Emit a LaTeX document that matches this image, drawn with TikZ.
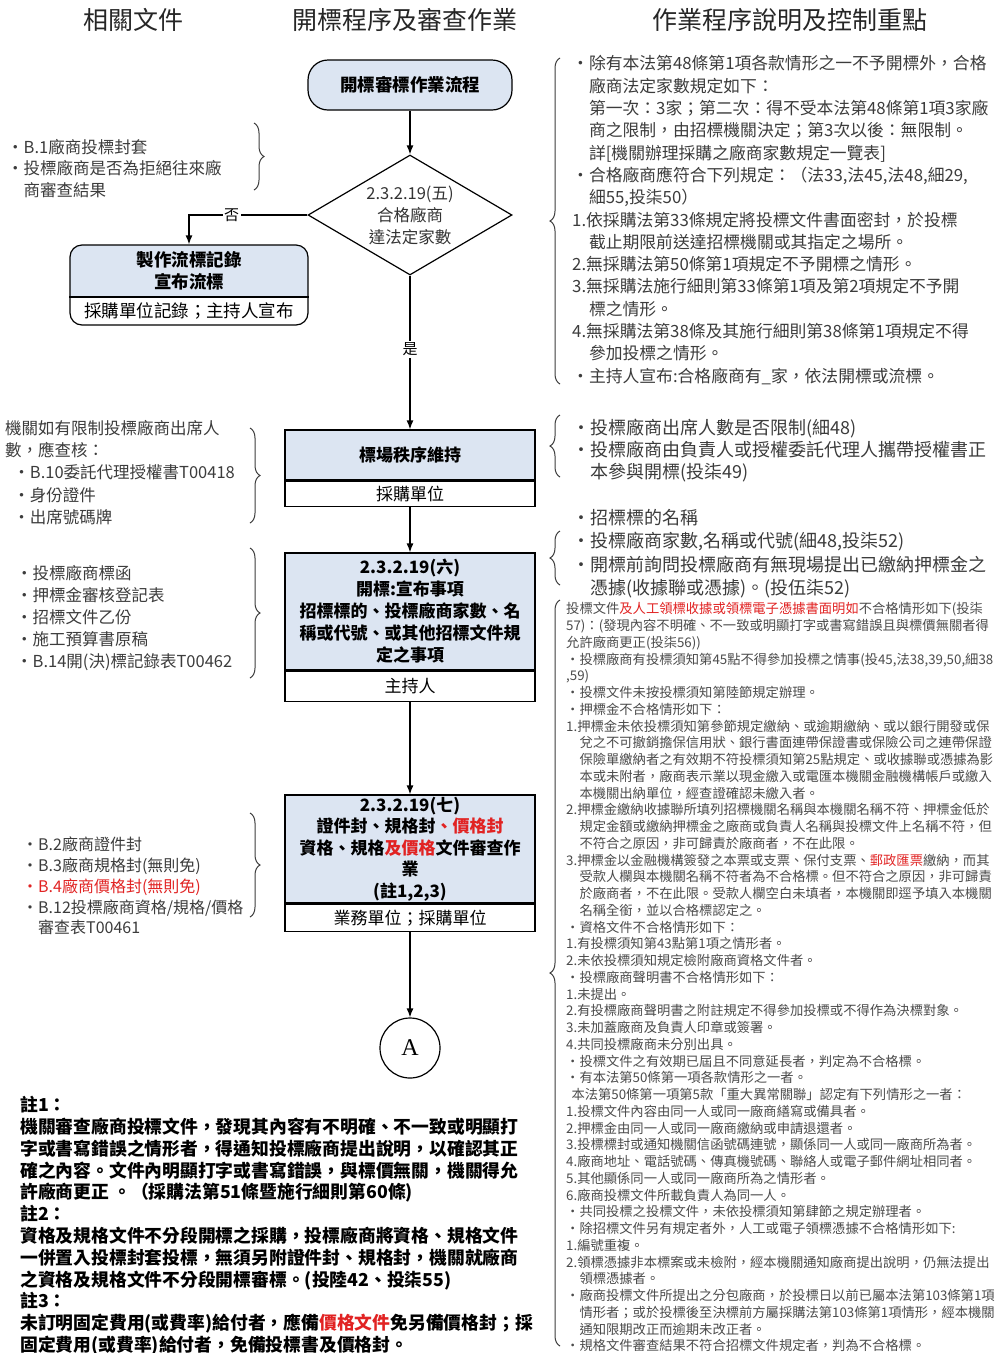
\documentclass[tikz,border=0pt]{standalone}
\usepackage{fontspec}
\setmainfont{Noto Sans CJK TC}
\newfontfamily\latinserif{Liberation Serif}
\usetikzlibrary{arrows.meta,shapes.geometric,decorations.pathreplacing,calc}
\definecolor{boxblue}{RGB}{220,229,242}
\definecolor{myred}{RGB}{225,35,35}
\definecolor{sidegray}{RGB}{60,60,60}
\definecolor{smallgray}{RGB}{75,75,75}
\newcommand{\fs}[2]{\fontsize{#1}{#2}\selectfont}
\newcommand{\ia}{\hspace*{1em}}
\newcommand{\rd}[1]{\textcolor{myred}{#1}}
\begin{document}
\begin{tikzpicture}[x=1pt,y=-1pt,
  arr/.style={-{Latex[length=9pt,width=7pt]}, line width=1.3pt},
  topbox/.style={draw, line width=1.2pt, fill=boxblue, minimum width=250pt, font=\fs{17}{22}\bfseries, align=center, inner sep=0pt},
  botbox/.style={draw, line width=1.2pt, fill=white, minimum width=250pt, font=\fs{17}{22}, inner sep=0pt},
  brc/.style={decorate, decoration={brace, amplitude=10pt}, line width=1pt, draw=sidegray},
  side/.style={align=left, anchor=north west, inner sep=0pt, text=sidegray},
  hdr/.style={font=\fs{25}{30}, text=black!85},
  yn/.style={fill=white, inner sep=1.5pt, font=\fs{15}{18}}]
\useasboundingbox (0,0) rectangle (1008,1353);
\fill[white] (0,0) rectangle (1008,1353);

% headers
\node[hdr] (h1) at (133,20) {相關文件};
\node[hdr] (h2) at (405,20) {開標程序及審查作業};
\node[hdr] (h3) at (790,20) {作業程序說明及控制重點};

% start
\node[draw, line width=1.2pt, fill=boxblue, rounded corners=20pt, minimum width=204pt, minimum height=50pt, font=\fs{17.5}{22}\bfseries] (start) at (410,85) {開標審標作業流程};

% decision
\node[diamond, draw, line width=1.2pt, minimum width=204pt, minimum height=120pt, aspect=1.7, inner sep=0pt] (dia) at (410,215) {};
\node[align=center, font=\fs{16.5}{22}, text=black!80] (diat) at (dia.center) {2.3.2.19(五)\\合格廠商\\達法定家數};

% fail box
\begin{scope}
\clip[rounded corners=12pt] (70,245) rectangle (308,325);
\fill[boxblue] (70,245) rectangle (308,297);
\end{scope}
\node[draw, line width=1.2pt, rounded corners=12pt, minimum width=238pt, minimum height=80pt, inner sep=0pt] (fail) at (189,285) {};
\draw[line width=1.2pt] (fail.west |- 0,297) -- (fail.east |- 0,297);
\node[align=center, font=\fs{17.5}{22}\bfseries] (failt) at (189,271) {製作流標記錄\\宣布流標};
\node[font=\fs{17.5}{22}] (failb) at (189,311) {採購單位記錄；主持人宣布};

% box 2
\node[topbox, minimum height=50pt] (b2t) at (410,455) {標場秩序維持};
\node[botbox, minimum height=25pt, anchor=north] (b2b) at (b2t.south) {採購單位};

% box 3
\node[topbox, minimum height=117pt] (b3t) at (410,611.5) {2.3.2.19(六)\\開標:宣布事項\\招標標的、投標廠商家數、名\\稱或代號、或其他招標文件規\\定之事項};
\node[botbox, minimum height=30pt, anchor=north] (b3b) at (b3t.south) {主持人};

% box 4
\node[topbox, minimum height=108pt, font=\fs{17}{21.5}\bfseries] (b4t) at (410,849) {2.3.2.19(七)\\證件封、規格封\rd{、價格封}\\資格、規格\rd{及價格}文件審查作\\業\\(註1,2,3)};
\node[botbox, minimum height=27pt, anchor=north] (b4b) at (b4t.south) {業務單位；採購單位};

% connector A
\node[circle, draw, line width=1.2pt, minimum size=60pt, inner sep=0pt, font=\latinserif\fs{24}{28}] (A) at (410,1048) {A};

% arrows
\draw[arr] (start.south) -- (dia.north);
\draw[arr] (dia.west) -| node[pos=0.32, yn] {否} (fail.north);
\draw[arr] (dia.south) -- node[pos=0.48, yn] {是} (b2t.north);
\draw[arr] (b2b.south) -- (b3t.north);
\draw[arr] (b3b.south) -- (b4t.north);
\draw[arr] (b4b.south) -- (A.north);

% left documents
\node[side, font=\fs{16.5}{21.5}] (l1) at (7,139) {・B.1廠商投標封套\\・投標廠商是否為拒絕往來廠\\\ia 商審查結果};
\draw[brc] (254,123) -- (254,190);

\node[side, font=\fs{16.5}{22.3}] (l2) at (5,420) {機關如有限制投標廠商出席人\\數，應查核：\\\hspace*{0.5em}・B.10委託代理授權書T00418\\\hspace*{0.5em}・身份證件\\\hspace*{0.5em}・出席號碼牌};
\draw[brc] (250,428) -- (250,523);

\node[side, font=\fs{16.5}{22}] (l3) at (16,565) {・投標廠商標函\\・押標金審核登記表\\・招標文件乙份\\・施工預算書原稿\\・B.14開(決)標記錄表T00462};
\draw[brc] (250,548) -- (250,678);

\node[side, font=\fs{16}{20.7}] (l4) at (22,837) {・B.2廠商證件封\\・B.3廠商規格封(無則免)\\\rd{・B.4廠商價格封(無則免)}\\・B.12投標廠商資格/規格/價格\\\ia 審查表T00461};
\draw[brc] (250,813) -- (250,917);

% right explanations
\node[side, font=\fs{16.8}{22.3}] (r1) at (572,55.5) {・除有本法第48條第1項各款情形之一不予開標外，合格\\\ia 廠商法定家數規定如下：\\\ia 第一次：3家；第二次：得不受本法第48條第1項3家廠\\\ia 商之限制，由招標機關決定；第3次以後：無限制。\\\ia 詳[機關辦理採購之廠商家數規定一覽表]\\・合格廠商應符合下列規定：（法33,法45,法48,細29,\\\ia 細55,投柒50）\\1.依採購法第33條規定將投標文件書面密封，於投標\\\ia 截止期限前送達招標機關或其指定之場所。\\2.無採購法第50條第1項規定不予開標之情形。\\3.無採購法施行細則第33條第1項及第2項規定不予開\\\ia 標之情形。\\4.無採購法第38條及其施行細則第38條第1項規定不得\\\ia 參加投標之情形。\\・主持人宣布:合格廠商有\_家，依法開標或流標。};
\draw[brc] (560,384) -- (560,58);

\node[side, font=\fs{18}{22}] (r2) at (572,419) {・投標廠商出席人數是否限制(細48)\\・投標廠商由負責人或授權委託代理人攜帶授權書正\\\ia 本參與開標(投柒49)};
\draw[brc] (560,477) -- (560,415);

\node[side, font=\fs{18}{23.3}] (r3) at (572,509) {・招標標的名稱\\・投標廠商家數,名稱或代號(細48,投柒52)\\・開標前詢問投標廠商有無現場提出已繳納押標金之\\\ia 憑據(收據聯或憑據)。(投伍柒52)};
\draw[brc] (560,585) -- (560,531);

\node[side, text=smallgray, font=\fs{13.3}{16.75}] (r4) at (566,602.3) {投標文件\rd{及人工領標收據或領標電子憑據書面明如}不合格情形如下(投柒\\57)：(發現內容不明確、不一致或明顯打字或書寫錯誤且與標價無關者得\\允許廠商更正(投柒56))\\・投標廠商有投標須知第45點不得參加投標之情事(投45,法38,39,50,細38\\,59)\\・投標文件未按投標須知第陸節規定辦理。\\・押標金不合格情形如下：\\1.押標金未依投標須知第參節規定繳納、或逾期繳納、或以銀行開發或保\\\ia 兌之不可撤銷擔保信用狀、銀行書面連帶保證書或保險公司之連帶保證\\\ia 保險單繳納者之有效期不符投標須知第25點規定、或收據聯或憑據為影\\\ia 本或未附者，廠商表示業以現金繳入或電匯本機關金融機構帳戶或繳入\\\ia 本機關出納單位，經查證確認未繳入者。\\2.押標金繳納收據聯所填列招標機關名稱與本機關名稱不符、押標金低於\\\ia 規定金額或繳納押標金之廠商或負責人名稱與投標文件上名稱不符，但\\\ia 不符合之原因，非可歸責於廠商者，不在此限。\\3.押標金以金融機構簽發之本票或支票、保付支票、\rd{郵政匯票}繳納，而其\\\ia 受款人欄與本機關名稱不符者為不合格標。但不符合之原因，非可歸責\\\ia 於廠商者，不在此限。受款人欄空白未填者，本機關即逕予填入本機關\\\ia 名稱全銜，並以合格標認定之。\\・資格文件不合格情形如下：\\1.有投標須知第43點第1項之情形者。\\2.未依投標須知規定檢附廠商資格文件者。\\・投標廠商聲明書不合格情形如下：\\1.未提出。\\2.有投標廠商聲明書之附註規定不得參加投標或不得作為決標對象。\\3.未加蓋廠商及負責人印章或簽署。\\4.共同投標廠商未分別出具。\\・投標文件之有效期已屆且不同意延長者，判定為不合格標。\\・有本法第50條第一項各款情形之一者。\\\hspace*{0.4em}本法第50條第一項第5款「重大異常關聯」認定有下列情形之一者：\\1.投標文件內容由同一人或同一廠商繕寫或備具者。\\2.押標金由同一人或同一廠商繳納或申請退還者。\\3.投標標封或通知機關信函號碼連號，顯係同一人或同一廠商所為者。\\4.廠商地址、電話號碼、傳真機號碼、聯絡人或電子郵件網址相同者。\\5.其他顯係同一人或同一廠商所為之情形者。\\6.廠商投標文件所載負責人為同一人。\\・共同投標之投標文件，未依投標須知第肆節之規定辦理者。\\・除招標文件另有規定者外，人工或電子領標憑據不合格情形如下:\\1.編號重複。\\2.領標憑據非本標案或未檢附，經本機關通知廠商提出說明，仍無法提出\\\ia 領標憑據者。\\・廠商投標文件所提出之分包廠商，於投標日以前已屬本法第103條第1項\\\ia 情形者；或於投標後至決標前方屬採購法第103條第1項情形，經本機關\\\ia 通知限期改正而逾期未改正者。\\・規格文件審查結果不符合招標文件規定者，判為不合格標。};
\draw[brc] (560,1346) -- (560,600);

% notes
\node[side, text=black, font=\fs{17.8}{21.8}\bfseries] (notes) at (20,1096) {註1：\\機關審查廠商投標文件，發現其內容有不明確、不一致或明顯打\\字或書寫錯誤之情形者，得通知投標廠商提出說明，以確認其正\\確之內容。文件內明顯打字或書寫錯誤，與標價無關，機關得允\\許廠商更正 。（採購法第51條暨施行細則第60條)\\註2：\\資格及規格文件不分段開標之採購，投標廠商將資格、規格文件\\一併置入投標封套投標，無須另附證件封、規格封，機關就廠商\\之資格及規格文件不分段開標審標。(投陸42、投柒55)\\註3：\\未訂明固定費用(或費率)給付者，應備\rd{價格文件}免另備價格封；採\\固定費用(或費率)給付者，免備投標書及價格封。};
\end{tikzpicture}
\end{document}
